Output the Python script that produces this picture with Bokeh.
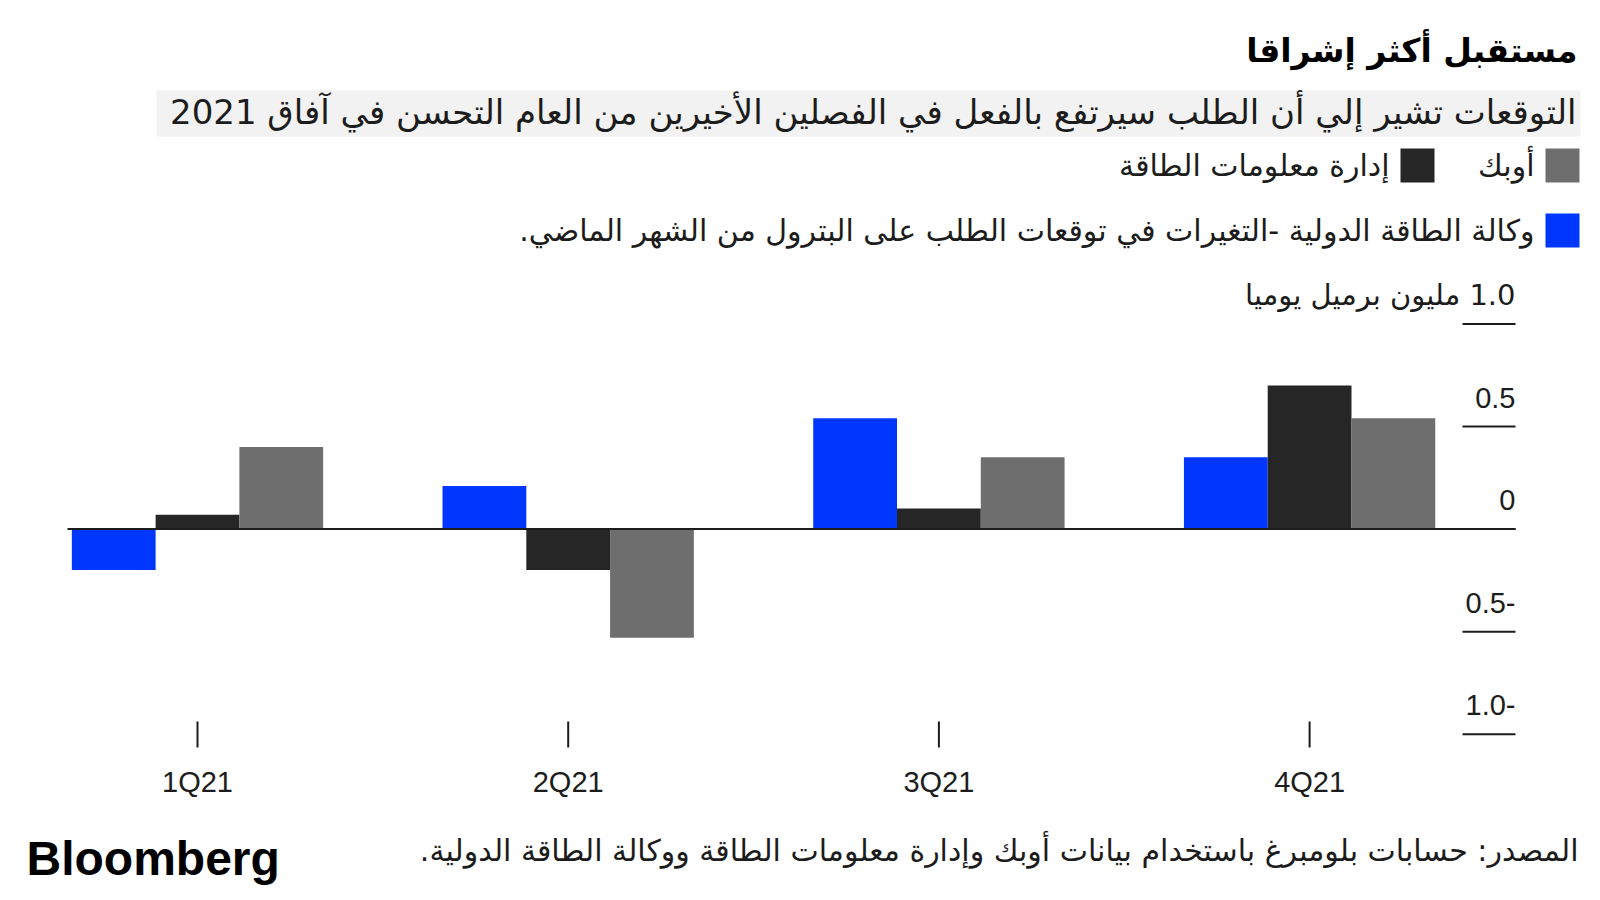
from bokeh.plotting import figure
from bokeh.models import Range1d, Label, BoxAnnotation, ColumnDataSource
from bokeh.transform import dodge
from bokeh.embed import file_html
from bokeh.resources import INLINE

# ---------------- data ----------------
quarters = ["1Q21", "2Q21", "3Q21", "4Q21"]
iea = [-0.20, 0.21, 0.54, 0.35]     # وكالة الطاقة الدولية
eia = [0.07, -0.20, 0.10, 0.70]     # إدارة معلومات الطاقة
opec = [0.40, -0.53, 0.35, 0.54]    # أوبك
y_ticks = [-1.0, -0.5, 0.0, 0.5, 1.0]
y_tick_labels = ["1.0-", "0.5-", "0", "0.5", "\u200f1.0 مليون برميل يوميا"]

title_text = "مستقبل أكثر إشراقا"
subtitle_text = "التوقعات تشير إلي أن الطلب سيرتفع بالفعل في الفصلين الأخيرين من العام التحسن في آفاق 2021"
name_iea = "وكالة الطاقة الدولية -التغيرات في توقعات الطلب على البترول من الشهر الماضي.\u200f"
name_eia = "إدارة معلومات الطاقة"
name_opec = "أوبك"
source_text = "المصدر: حسابات بلومبرغ باستخدام بيانات أوبك وإدارة معلومات الطاقة ووكالة الطاقة الدولية.\u200f"
brand_text = "Bloomberg"

# ---------------- layout / style ----------------
W, H = 1600, 900
CAT0_PX, CAT_STEP_PX = 197.0, 370.7      # pixel position of first category centre, spacing
ZERO_PY, UNIT_PX = 528.6, 205.1          # pixel row of value 0, pixels per unit

def px2x(px):
    return (px - CAT0_PX) / CAT_STEP_PX

def py2y(py):
    return (ZERO_PY - py) / UNIT_PX

C_IEA, C_EIA, C_OPEC = "#0037ff", "#262626", "#6e6e6e"
INK = "#1c1c1c"
AR_FONT = "DejaVu Sans"
LAT_FONT = "Liberation Sans"
BAR_W = 0.226

src = ColumnDataSource(dict(x=list(range(len(quarters))), iea=iea, eia=eia, opec=opec))

p = figure(width=W, height=H, output_backend="svg", toolbar_location=None,
           x_range=Range1d(px2x(0), px2x(W)), y_range=Range1d(py2y(H), py2y(0)),
           x_axis_location=None, y_axis_location=None, min_border=0,
           outline_line_color=None, background_fill_color="white", border_fill_color="white")
p.xgrid.visible = False
p.ygrid.visible = False

# subtitle band
p.add_layout(BoxAnnotation(left=px2x(156), right=px2x(1580), top=py2y(90), bottom=py2y(136),
                           fill_color="#f2f2f2", fill_alpha=1.0, line_color=None, level="underlay"))

# bars
p.vbar(x=dodge("x", -BAR_W, range=p.x_range), top="iea", bottom=0, width=BAR_W, source=src,
       fill_color=C_IEA, line_color=None)
p.vbar(x=dodge("x", 0.0, range=p.x_range), top="eia", bottom=0, width=BAR_W, source=src,
       fill_color=C_EIA, line_color=None)
p.vbar(x=dodge("x", BAR_W, range=p.x_range), top="opec", bottom=0, width=BAR_W, source=src,
       fill_color=C_OPEC, line_color=None)

# zero line
p.segment(x0=[px2x(67)], y0=[0.0], x1=[px2x(1515)], y1=[0.0], line_color=INK, line_width=2)

# y "axis": short rules at each tick on the right, labels above them
n = len(y_ticks)
p.segment(x0=[px2x(1462)] * n, y0=y_ticks, x1=[px2x(1515)] * n, y1=y_ticks,
          line_color=INK, line_width=2)
for t, lab in zip(y_ticks, y_tick_labels):
    p.add_layout(Label(x=px2x(1515), y=t, y_offset=29,
                       text=lab, text_align="right", text_baseline="middle",
                       text_font=AR_FONT if len(lab) > 5 else LAT_FONT,
                       text_font_size="29px", text_color=INK))

# x "axis": short vertical ticks and category labels
m = len(quarters)
p.segment(x0=list(range(m)), y0=[py2y(721)] * m, x1=list(range(m)), y1=[py2y(747)] * m,
          line_color=INK, line_width=2)
for i, q in enumerate(quarters):
    p.add_layout(Label(x=i, y=py2y(781), text=q, text_align="center", text_baseline="middle",
                       text_font=LAT_FONT, text_font_size="29px", text_color=INK))

# title & subtitle
p.add_layout(Label(x=px2x(1577), y=py2y(50), text=title_text,
                   text_align="right", text_baseline="middle", text_font=AR_FONT,
                   text_font_style="bold", text_font_size="33px", text_color="#000000"))
p.add_layout(Label(x=px2x(1576), y=py2y(111), text=subtitle_text,
                   text_align="right", text_baseline="middle", text_font=AR_FONT,
                   text_font_size="34px", text_color=INK))

# legend (right-to-left)
legend_rows = [
    (C_OPEC, name_opec, 1545, 148),
    (C_EIA, name_eia, 1400, 148),
    (C_IEA, name_iea, 1545, 213),
]
for col, name, lx, ty in legend_rows:
    p.add_layout(BoxAnnotation(left=px2x(lx), right=px2x(lx + 34), top=py2y(ty), bottom=py2y(ty + 34),
                               fill_color=col, fill_alpha=1.0, line_color=None))
    p.add_layout(Label(x=px2x(lx - 11), y=py2y(ty + 17), text=name,
                       text_align="right", text_baseline="middle", text_font=AR_FONT,
                       text_font_size="30px", text_color=INK))

# footer
p.add_layout(Label(x=px2x(1578), y=py2y(850), text=source_text,
                   text_align="right", text_baseline="middle", text_font=AR_FONT,
                   text_font_size="30px", text_color=INK))
p.add_layout(Label(x=px2x(26), y=py2y(858), text=brand_text,
                   text_align="left", text_baseline="middle", text_font=LAT_FONT,
                   text_font_style="bold", text_font_size="48px", text_color="#000000"))

open("out.html", "w").write(file_html(p, INLINE))
